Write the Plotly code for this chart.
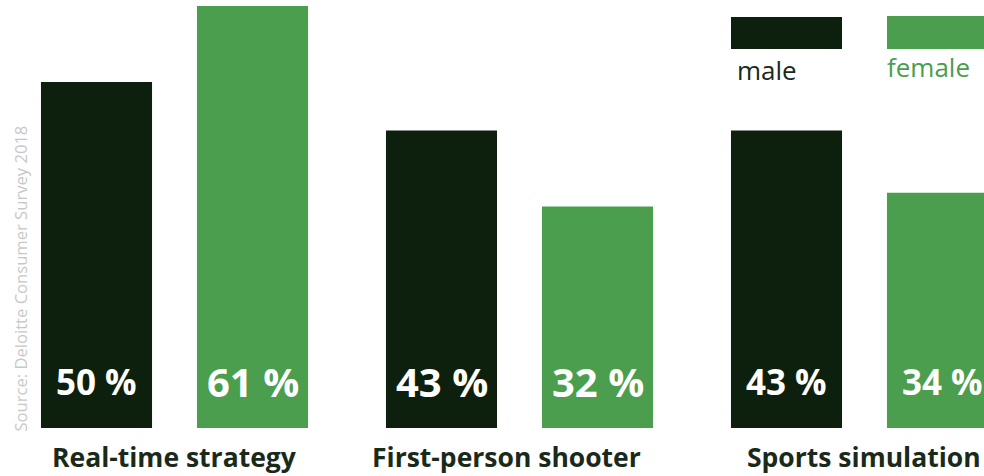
import plotly.graph_objects as go

categories = ["Real-time strategy", "First-person shooter", "Sports simulation"]
male = [50, 43, 43]
female = [61, 32, 34]
series_names = ["male", "female"]
source_text = "Source: Deloitte Consumer Survey 2018"

# styling (not data)
male_label_sizes = [35, 40, 35]
female_label_sizes = [40, 40, 35]
cat_label_xshift = [0, -13, 0]

MALE_C = "#0d200d"
FEMALE_C = "#4a9e4d"
TEXT_C = "#1a2a1a"
W, H = 984, 476
PLOT_H = 428

fig = go.Figure()
fig.add_trace(go.Bar(x=categories, y=male, name=series_names[0], marker_color=MALE_C,
                     marker_line_width=0, hoverinfo="skip"))
fig.add_trace(go.Bar(x=categories, y=female, name=series_names[1], marker_color=FEMALE_C,
                     marker_line_width=0, hoverinfo="skip"))

annotations = []
for i, c in enumerate(categories):
    for val, shift, sz in ((male[i], -78, male_label_sizes[i]), (female[i], 78, female_label_sizes[i])):
        annotations.append(dict(x=c, y=0, xref="x", yref="y", text=f"{val} %",
                                showarrow=False, xshift=shift, yshift=47,
                                yanchor="middle", xanchor="center",
                                font=dict(family="Open Sans", size=sz, color="white", weight="bold")))
    annotations.append(dict(x=c, y=0, xref="x", yref="y", text=c, showarrow=False,
                            xshift=cat_label_xshift[i], yshift=-28.5,
                            yanchor="middle", xanchor="center",
                            font=dict(family="Open Sans", size=26.5, color=TEXT_C, weight="bold")))

# legend text
annotations.append(dict(x=767 / W, y=1 - 70 / PLOT_H, xref="paper", yref="paper",
                        text=series_names[0], showarrow=False, xanchor="center", yanchor="middle",
                        font=dict(family="Open Sans", size=26, color=TEXT_C)))
annotations.append(dict(x=928 / W, y=1 - 67 / PLOT_H, xref="paper", yref="paper",
                        text=series_names[1], showarrow=False, xanchor="center", yanchor="middle",
                        font=dict(family="Open Sans", size=26, color=FEMALE_C)))
# source
annotations.append(dict(x=20 / W, y=1 - 278.5 / PLOT_H, xref="paper", yref="paper",
                        text=source_text, showarrow=False, textangle=-90,
                        xanchor="center", yanchor="middle",
                        font=dict(family="Open Sans", size=16.6, color="#c8c8c8")))

shapes = [
    dict(type="rect", xref="paper", yref="paper", x0=731 / W, x1=842 / W,
         y0=1 - 49 / PLOT_H, y1=1 - 17 / PLOT_H, fillcolor=MALE_C, line_width=0),
    dict(type="rect", xref="paper", yref="paper", x0=887 / W, x1=998 / W,
         y0=1 - 49 / PLOT_H, y1=1 - 16 / PLOT_H, fillcolor=FEMALE_C, line_width=0),
]

fig.update_layout(
    width=W, height=H,
    margin=dict(l=0, r=0, t=0, b=H - PLOT_H, pad=0),
    paper_bgcolor="white", plot_bgcolor="white",
    barmode="group", bargap=0.0957, bargroupgap=0.288,
    showlegend=False,
    annotations=annotations, shapes=shapes,
    font=dict(family="Open Sans"),
)
fig.update_xaxes(range=[-0.5058, 2.3464], showgrid=False, zeroline=False, showline=False,
                 ticks="", showticklabels=False)
fig.update_yaxes(range=[0, 61.85], showgrid=False, zeroline=False, showline=False,
                 showticklabels=False, ticks="")

fig.write_html("out.html", config={"displayModeBar": False},
               post_script="document.body.style.margin='0';document.body.style.overflow='hidden';")
